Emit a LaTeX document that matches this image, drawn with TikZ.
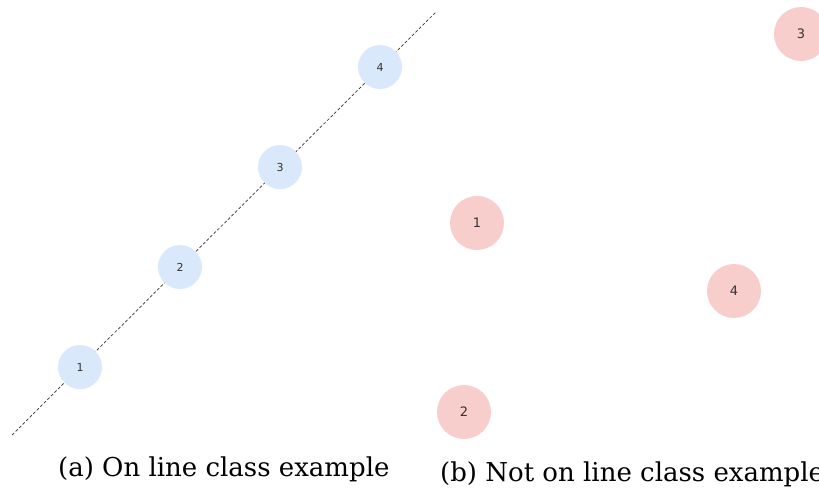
\documentclass[tikz,border=0pt]{standalone}
\usepackage{fontspec}
\setmainfont{DejaVu Serif}
\newfontfamily\lblfont{DejaVu Sans}
\definecolor{bluefill}{HTML}{DAE8FC}
\definecolor{redfill}{HTML}{F8CECC}
\definecolor{lbl}{HTML}{333333}
\tikzset{
  bluept/.style={circle, fill=bluefill, draw=none, minimum size=44pt, inner sep=0pt, font=\lblfont\fontsize{11}{12}\selectfont, text=lbl},
  redpt/.style={circle, fill=redfill, draw=none, minimum size=54pt, inner sep=0pt, font=\lblfont\fontsize{13}{15}\selectfont, text=lbl},
  caption/.style={font=\fontsize{26}{30}\selectfont, inner sep=0pt, anchor=base west}
}
\begin{document}
\begin{tikzpicture}[x=1pt,y=-1pt]
\useasboundingbox (0,0) rectangle (819,488);
\coordinate (s) at (12,435);
\coordinate (e) at (436,12);
\draw[black!80, line width=0.7pt, dash pattern=on 3pt off 2pt] (s) -- (e);
\node[bluept] (b1) at (80,367) {1};
\node[bluept] (b2) at (180,267) {2};
\node[bluept] (b3) at (280,167) {3};
\node[bluept] (b4) at (380,67) {4};
\node[redpt] (r1) at (477,223) {1};
\node[redpt] (r2) at (464,412) {2};
\node[redpt] (r3) at (801,34) {3};
\node[redpt] (r4) at (734,291) {4};
\node[caption] (ca) at (58,476) {(a) On line class example};
\node[caption] (cb) at (440,481) {(b) Not on line class example};
\end{tikzpicture}
\end{document}
